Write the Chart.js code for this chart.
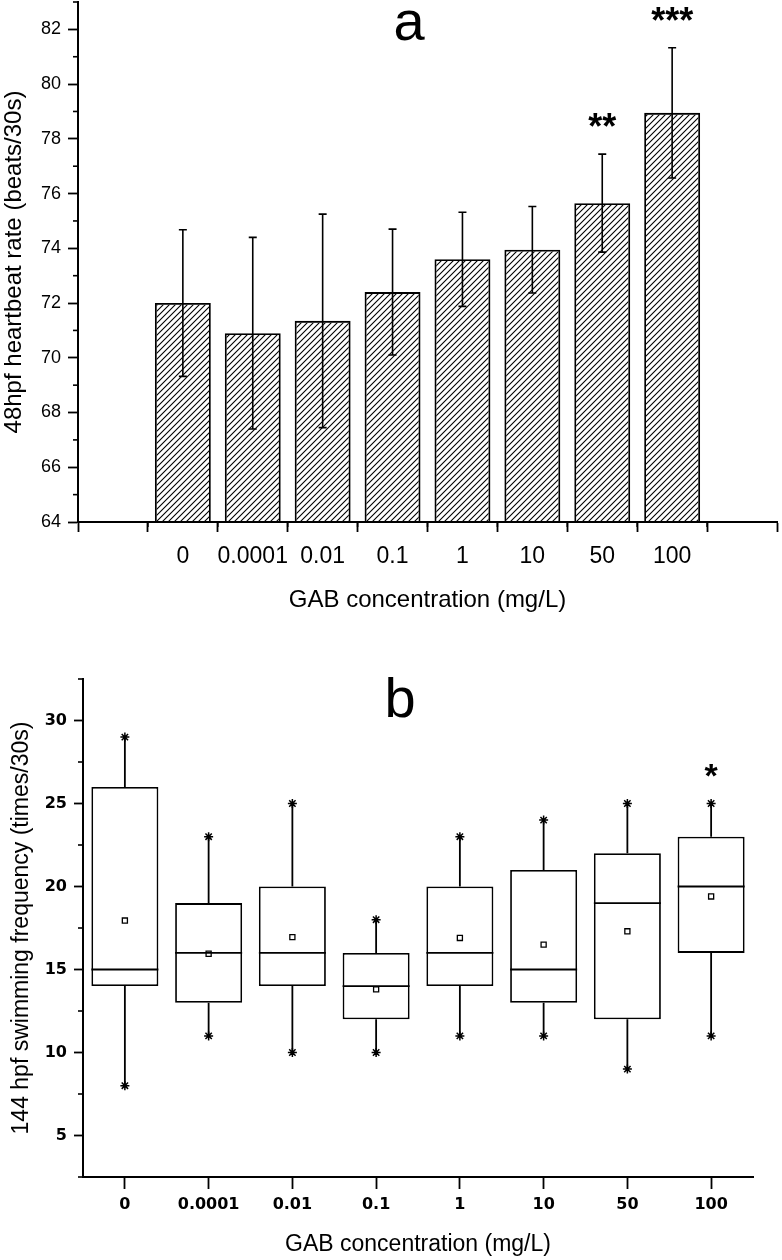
<!DOCTYPE html>
<html>
<head>
<meta charset="utf-8">
<script src="https://cdn.jsdelivr.net/npm/chart.js@4.4.1/dist/chart.umd.min.js"></script>
<style>
  body { margin: 0; background: #fff; }
  #wrap { position: relative; width: 782px; height: 1260px; }
  canvas { position: absolute; left: 0; }
  #chartA { top: 0; }
  #chartB { top: 620px; }
</style>
</head>
<body>
<div id="wrap">
  <canvas id="chartA" width="782" height="620"></canvas>
  <canvas id="chartB" width="782" height="640"></canvas>
</div>
<script>
// concentrations (mg/L)
var categories = ['0', '0.0001', '0.01', '0.1', '1', '10', '50', '100'];

// (a) 48hpf heartbeat rate, mean and SD
var heartMean = [72.0, 70.9, 71.35, 72.4, 73.6, 73.95, 75.65, 78.95];
var heartSD = [2.68, 3.5, 3.9, 2.3, 1.72, 1.58, 1.79, 2.38];
var heartSig = ['', '', '', '', '', '', '**', '***'];
var heartTicks = [64, 66, 68, 70, 72, 74, 76, 78, 80, 82];

// (b) 144hpf swimming frequency, box plot
var swimMin = [8, 11, 10, 10, 11, 11, 9, 11];
var swimQ1 = [14, 13, 14, 12, 14, 13, 12, 16];
var swimMedian = [15, 16, 16, 14, 16, 15, 19, 20];
var swimQ3 = [26, 19, 20, 16, 20, 21, 22, 23];
var swimMax = [29, 23, 25, 18, 23, 24, 25, 25];
var swimMean = [17.95, 15.95, 16.95, 13.8, 16.9, 16.5, 17.3, 19.4];
var swimSig = ['', '', '', '', '', '', '', '*'];
var swimTicks = [5, 10, 15, 20, 25, 30];

var FONT = '"Liberation Sans", Arial, sans-serif';
var BOLDFONT = '"DejaVu Sans", sans-serif';

Chart.defaults.color = '#000';
Chart.defaults.animation = false;

function hatchPattern() {
  var c = document.createElement('canvas');
  c.width = 6; c.height = 6;
  var g = c.getContext('2d');
  g.strokeStyle = '#000';
  g.lineWidth = 1.1;
  g.beginPath();
  g.moveTo(0, 6); g.lineTo(6, 0);
  g.moveTo(-1, 1); g.lineTo(1, -1);
  g.moveTo(5, 7); g.lineTo(7, 5);
  g.stroke();
  return g.createPattern(c, 'repeat');
}

// short ticks between the labelled ones
var minorTicks = {
  id: 'minorTicks',
  afterDraw: function (chart, args, opts) {
    var ctx = chart.ctx;
    ctx.save();
    ctx.strokeStyle = '#000';
    ctx.lineWidth = 1.6;
    (opts.list || []).forEach(function (m) {
      var s = chart.scales[m.axis];
      for (var v = m.from; v <= m.to + 1e-9; v += m.step) {
        var p = s.getPixelForValue(v);
        ctx.beginPath();
        if (s.isHorizontal()) { ctx.moveTo(p, s.top); ctx.lineTo(p, s.top + m.len); }
        else { ctx.moveTo(s.right, p); ctx.lineTo(s.right - m.len, p); }
        ctx.stroke();
      }
    });
    ctx.restore();
  }
};

// panel letter and significance stars
var notes = {
  id: 'notes',
  afterDatasetsDraw: function (chart, args, opts) {
    var ctx = chart.ctx, x = chart.scales.x, y = chart.scales.y;
    ctx.save();
    ctx.fillStyle = '#000';
    ctx.textAlign = 'center';
    ctx.textBaseline = 'alphabetic';
    ctx.font = '56px ' + FONT;
    ctx.fillText(opts.panel, opts.panelX, opts.panelY);
    ctx.font = 'bold ' + opts.starSize + 'px ' + FONT;
    opts.marks.forEach(function (m, i) {
      if (!m) return;
      var cy = y.getPixelForValue(opts.top[i]) - 36;
      ctx.fillText(m, x.getPixelForValue(i), cy + opts.starSize * 0.58);
    });
    ctx.restore();
  }
};

var errorBars = {
  id: 'errorBars',
  afterDatasetsDraw: function (chart) {
    var ctx = chart.ctx, x = chart.scales.x, y = chart.scales.y;
    ctx.save();
    ctx.strokeStyle = '#000';
    ctx.lineWidth = 1.6;
    heartMean.forEach(function (m, i) {
      var px = x.getPixelForValue(i);
      var t = y.getPixelForValue(m + heartSD[i]);
      var b = y.getPixelForValue(m - heartSD[i]);
      ctx.beginPath();
      ctx.moveTo(px, t); ctx.lineTo(px, b);
      ctx.moveTo(px - 4, t); ctx.lineTo(px + 4, t);
      ctx.moveTo(px - 4, b); ctx.lineTo(px + 4, b);
      ctx.stroke();
    });
    ctx.restore();
  }
};

var boxParts = {
  id: 'boxParts',
  afterDatasetsDraw: function (chart) {
    var ctx = chart.ctx, y = chart.scales.y;
    var bars = chart.getDatasetMeta(0).data;
    ctx.save();
    ctx.strokeStyle = '#000';
    ctx.lineWidth = 1.8;
    bars.forEach(function (bar, i) {
      var half = bar.width / 2;
      var ym = y.getPixelForValue(swimMedian[i]);
      ctx.beginPath();
      ctx.moveTo(bar.x - half, ym); ctx.lineTo(bar.x + half, ym);
      ctx.moveTo(bar.x, y.getPixelForValue(swimQ3[i])); ctx.lineTo(bar.x, y.getPixelForValue(swimMax[i]));
      ctx.moveTo(bar.x, y.getPixelForValue(swimQ1[i])); ctx.lineTo(bar.x, y.getPixelForValue(swimMin[i]));
      ctx.stroke();
    });
    ctx.restore();
  }
};

function axisGrid(len) {
  return { display: true, drawOnChartArea: false, drawTicks: true, tickLength: len,
           tickColor: '#000', tickWidth: 1.8 };
}
var axisBorder = { display: true, color: '#000', width: 2 };

// keep the plot area where the layout padding puts it
function fixSize(prop, size) {
  return function (s) {
    s[prop] = size;
    s.paddingTop = 0; s.paddingBottom = 0; s.paddingLeft = 0; s.paddingRight = 0;
  };
}

// ---- chart a ----
new Chart(document.getElementById('chartA'), {
  type: 'bar',
  data: {
    datasets: [{
      data: heartMean.map(function (v, i) { return { x: i, y: v }; }),
      backgroundColor: hatchPattern(),
      borderColor: '#000',
      borderWidth: 1.8,
      barPercentage: 0.8,
      categoryPercentage: 1
    }]
  },
  options: {
    responsive: false,
    layout: { padding: { top: 2, right: 5, left: 0, bottom: 0 } },
    plugins: {
      legend: { display: false },
      tooltip: { enabled: false },
      minorTicks: { list: [
        { axis: 'y', from: 65, to: 83, step: 2, len: 5 },
        { axis: 'x', from: -0.5, to: 7.5, step: 1, len: 5 }
      ] },
      notes: {
        panel: 'a', panelX: 409, panelY: 40, starSize: 36,
        marks: heartSig,
        top: heartMean.map(function (m, i) { return m + heartSD[i]; })
      }
    },
    scales: {
      x: {
        type: 'linear', min: -1, max: 8,
        afterBuildTicks: function (s) {
          s.ticks = [-1].concat(categories.map(function (c, i) { return i; }), [categories.length])
            .map(function (v) { return { value: v }; });
        },
        afterFit: fixSize('height', 98),
        grid: axisGrid(10),
        border: axisBorder,
        ticks: {
          autoSkip: false, maxRotation: 0, padding: 11,
          font: { family: FONT, size: 23 },
          callback: function (v) { return categories[v] !== undefined ? categories[v] : ''; }
        },
        title: { display: true, text: 'GAB concentration (mg/L)', font: { family: FONT, size: 24 },
                 padding: { top: 0, bottom: 5 } }
      },
      y: {
        min: 64, max: 83,
        afterBuildTicks: function (s) { s.ticks = heartTicks.map(function (v) { return { value: v }; }); },
        afterFit: fixSize('width', 78),
        grid: axisGrid(10),
        border: axisBorder,
        ticks: { padding: 7, font: { family: FONT, size: 18 } },
        title: { display: true, text: '48hpf heartbeat rate (beats/30s)', font: { family: FONT, size: 24 },
                 padding: { top: 0, bottom: 0 } }
      }
    }
  },
  plugins: [errorBars, minorTicks, notes]
});

// ---- chart b ----
new Chart(document.getElementById('chartB'), {
  type: 'bar',
  data: {
    labels: categories,
    datasets: [{
      type: 'bar',
      data: swimQ1.map(function (v, i) { return [v, swimQ3[i]]; }),
      backgroundColor: '#fff',
      borderColor: '#000',
      borderWidth: 1.8,
      borderSkipped: false,
      barPercentage: 0.8,
      categoryPercentage: 1,
      order: 3
    }, {
      type: 'line', data: swimMax, showLine: false,
      pointStyle: 'star', pointRadius: 4.5, borderColor: '#000', borderWidth: 1.5, order: 1
    }, {
      type: 'line', data: swimMin, showLine: false,
      pointStyle: 'star', pointRadius: 4.5, borderColor: '#000', borderWidth: 1.5, order: 1
    }, {
      type: 'line', data: swimMean, showLine: false,
      pointStyle: 'rect', pointRadius: 3.6, backgroundColor: '#fff', borderColor: '#000', borderWidth: 1.3, order: 0
    }]
  },
  options: {
    responsive: false,
    layout: { padding: { top: 59, right: 29, left: 0, bottom: 0 } },
    plugins: {
      legend: { display: false },
      tooltip: { enabled: false },
      minorTicks: { list: [
        { axis: 'y', from: 2.5, to: 32.5, step: 5, len: 5 }
      ] },
      notes: {
        panel: 'b', panelX: 400, panelY: 97, starSize: 34,
        marks: swimSig,
        top: swimMax
      }
    },
    scales: {
      x: {
        offset: true,
        afterFit: fixSize('height', 83),
        grid: Object.assign(axisGrid(12), { offset: false }),
        border: axisBorder,
        ticks: { padding: 6, maxRotation: 0, font: { family: BOLDFONT, size: 16, weight: 'bold' } },
        title: { display: true, text: 'GAB concentration (mg/L)', font: { family: FONT, size: 23 },
                 padding: { top: 0, bottom: 2 } }
      },
      y: {
        min: 2.5, max: 32.5,
        afterBuildTicks: function (s) { s.ticks = swimTicks.map(function (v) { return { value: v }; }); },
        afterFit: fixSize('width', 83),
        grid: axisGrid(9),
        border: axisBorder,
        ticks: { padding: 7, font: { family: BOLDFONT, size: 16, weight: 'bold' } },
        title: { display: true, text: '144 hpf swimming frequency (times/30s)', font: { family: FONT, size: 23 },
                 padding: { top: 8, bottom: 0 } }
      }
    }
  },
  plugins: [boxParts, minorTicks, notes]
});
</script>
</body>
</html>
